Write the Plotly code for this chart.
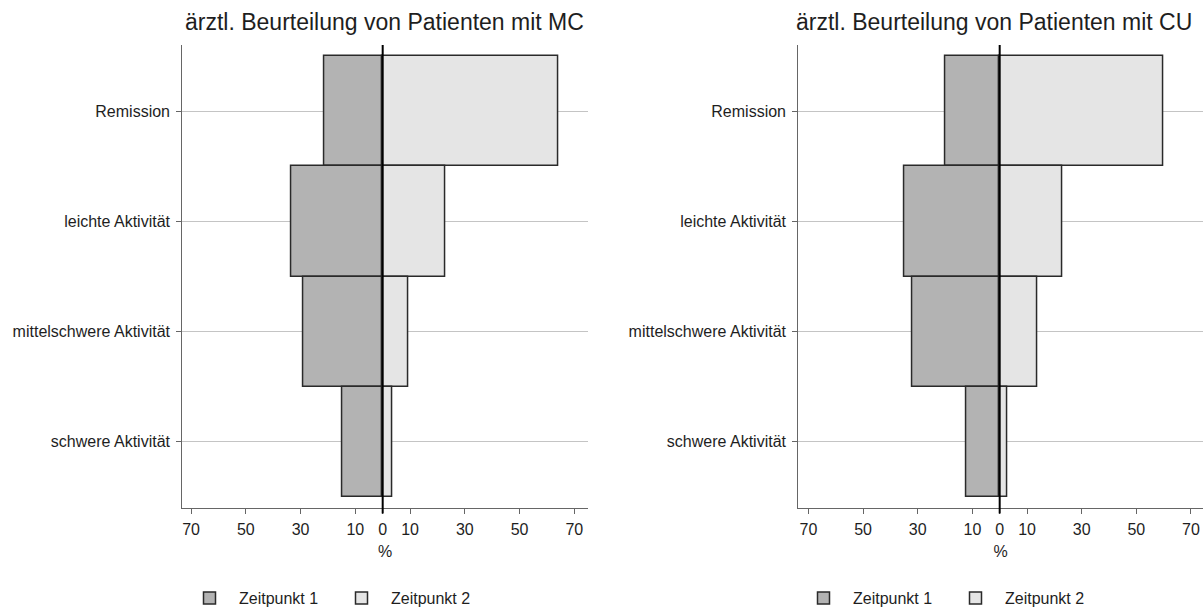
import plotly.graph_objects as go

categories = ["Remission", "leichte Aktivität", "mittelschwere Aktivität", "schwere Aktivität"]
mc_t1 = [21.5, 33.5, 29.0, 14.6]
mc_t2 = [64.0, 22.8, 9.4, 3.5]
cu_t1 = [19.8, 35.0, 32.1, 12.1]
cu_t2 = [60.0, 22.9, 13.8, 2.6]
titles = ["ärztl. Beurteilung von Patienten mit MC", "ärztl. Beurteilung von Patienten mit CU"]
tick_vals = [-70, -50, -30, -10, 0, 10, 30, 50, 70]
tick_text = ["70", "50", "30", "10", "0", "10", "30", "50", "70"]
series_names = ["Zeitpunkt 1", "Zeitpunkt 2"]

C1 = "#b3b3b3"
C2 = "#e5e5e5"
EDGE = "#2a2a2a"
FONT = "Liberation Sans, Arial, sans-serif"
TXT = "#1e1e1e"
W, H = 1203, 607

fig = go.Figure()

panels = [(mc_t1, mc_t2, "x", "y", "legend"), (cu_t1, cu_t2, "x2", "y2", "legend2")]
for t1, t2, xa, ya, lg in panels:
    fig.add_trace(go.Bar(
        y=categories, x=[-v for v in t1], base=0, orientation="h", width=1.0,
        name=series_names[0], marker=dict(color=C1, line=dict(color=EDGE, width=1.5)),
        xaxis=xa, yaxis=ya, legend=lg, hoverinfo="skip"))
    fig.add_trace(go.Bar(
        y=categories, x=t2, base=0, orientation="h", width=1.0,
        name=series_names[1], marker=dict(color=C2, line=dict(color=EDGE, width=1.5)),
        xaxis=xa, yaxis=ya, legend=lg, hoverinfo="skip"))

def px_x(p):
    return p / W

def px_y(p):
    return (H - p) / H

xdoms = [[px_x(182.3), px_x(588)], [px_x(798.3), 1.0]]
ydom = [px_y(508), px_y(45)]
xranges = [[-73.2, 75.0], [-73.7, 74.4]]

axis_common = dict(showline=True, linecolor="#666666", linewidth=1.2,
                   ticks="outside", ticklen=5, tickcolor="#666666", tickwidth=1,
                   automargin=False,
                   tickfont=dict(family=FONT, size=16, color=TXT))

layout = dict(
    width=W, height=H, plot_bgcolor="white", paper_bgcolor="white",
    margin=dict(l=0, r=0, t=0, b=0, autoexpand=False), barmode="overlay", bargap=0,
    font=dict(family=FONT, color=TXT),
)
for i, (xa, ya) in enumerate([("xaxis", "yaxis"), ("xaxis2", "yaxis2")]):
    sfx = "" if i == 0 else "2"
    layout[xa] = dict(domain=xdoms[i], range=xranges[i], anchor="y" + sfx,
                      tickvals=tick_vals, ticktext=tick_text, showgrid=False, zeroline=False,
                      ticklabelstandoff=2,
                      title=dict(text="%", font=dict(family=FONT, size=16, color=TXT), standoff=8),
                      **axis_common)
    layout[ya] = dict(domain=ydom, range=[3.6, -0.6], anchor="x" + sfx,
                      categoryorder="array", categoryarray=categories,
                      showgrid=True, gridcolor="#c4c4c4", gridwidth=1, zeroline=False,
                      ticklabelstandoff=3, **axis_common)

layout["legend"] = dict(orientation="h", x=px_x(180), xanchor="left", y=px_y(598), yanchor="middle",
                        font=dict(family=FONT, size=16, color=TXT),
                        entrywidth=88, entrywidthmode="pixels", itemwidth=49, traceorder="normal")
layout["legend2"] = dict(orientation="h", x=px_x(794), xanchor="left", y=px_y(598), yanchor="middle",
                         font=dict(family=FONT, size=16, color=TXT),
                         entrywidth=88, entrywidthmode="pixels", itemwidth=49, traceorder="normal")

fig.update_layout(**layout)

# zero reference lines on top of the bars
for sfx in ["", "2"]:
    fig.add_shape(type="line", xref="x" + sfx, yref="y" + sfx + " domain",
                  x0=0, x1=0, y0=-0.012, y1=1.0,
                  line=dict(color="black", width=2), layer="above")

# panel titles
centers = [px_x(384.5), px_x(994)]
for c, t in zip(centers, titles):
    fig.add_annotation(text=t, xref="paper", yref="paper", x=c, y=px_y(22),
                       xanchor="center", yanchor="middle", showarrow=False,
                       font=dict(family=FONT, size=23, color=TXT))

fig.write_html("out.html", config={"displayModeBar": False},
               post_script="document.body.style.margin='0px';document.body.style.overflow='hidden';")
